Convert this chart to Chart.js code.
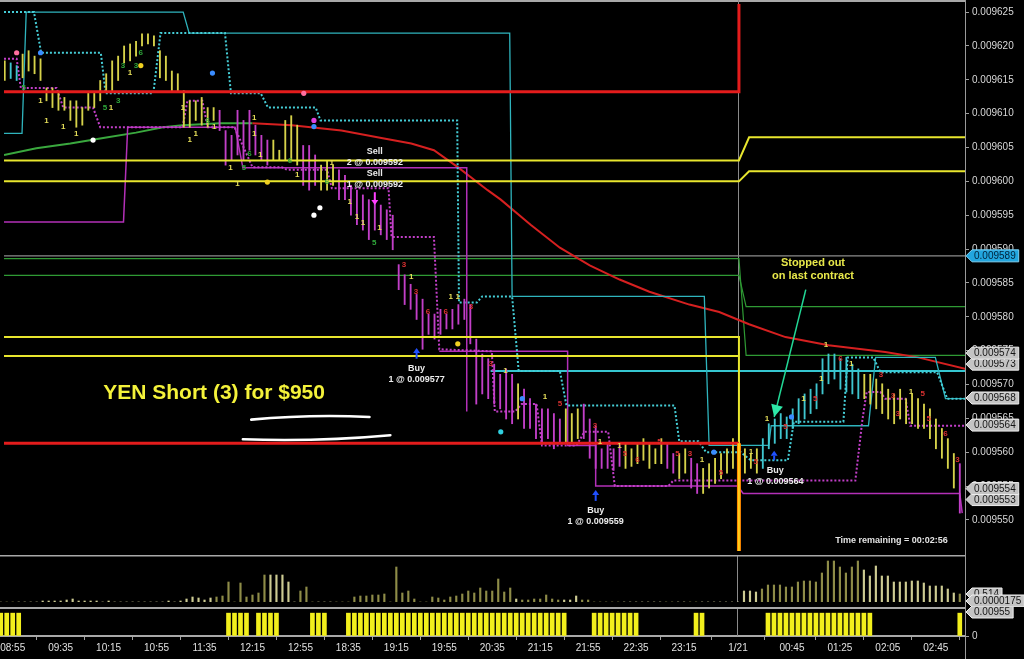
<!DOCTYPE html>
<html>
<head>
<meta charset="utf-8">
<title>YEN Short (3) for $950</title>
<script src="https://cdn.jsdelivr.net/npm/chart.js@4.4.1/dist/chart.umd.min.js"></script>
<style>
html,body{margin:0;padding:0;background:#000;overflow:hidden;}
#wrap{position:relative;width:1024px;height:659px;background:#000;}
#wrap canvas{position:absolute;left:0;}
</style>
</head>
<body>
<div id="wrap">
<canvas id="cMain" width="1024" height="555" style="top:0px;width:1024px;height:555px"></canvas>
<canvas id="cVol" width="1024" height="52" style="top:555px;width:1024px;height:52px"></canvas>
<canvas id="cBot" width="1024" height="52" style="top:607px;width:1024px;height:52px"></canvas>
</div>
<script>
// ---------------- DATA ----------------
const timeTickIdx = [2,10,18,26,34,42,50,58,66,74,82,90,98,106,114,123,132,140,148,156];
const timeTickLbl = ['08:55','09:35','10:15','10:55','11:35','12:15','12:55','18:35','19:15','19:55','20:35','21:15','21:55','22:35','23:15','1/21','00:45','01:25','02:05','02:45'];
const priceTicks = [0.009550,0.009555,0.009560,0.009565,0.009570,0.009575,0.009580,0.009585,0.009590,0.009595,0.009600,0.009605,0.009610,0.009615,0.009620,0.009625];

const barHigh = [
0.0096178,0.0096175,0.0096171,0.0096188,0.0096193,0.0096185,0.0096181,0.0096138,0.0096138,0.0096130,
0.0096124,0.0096119,0.0096119,0.0096109,0.0096130,0.0096130,0.0096149,0.0096159,0.0096178,0.0096185,
0.0096200,0.0096203,0.0096207,0.0096218,0.0096218,0.0096215,0.0096193,0.0096185,0.0096163,0.0096159,
0.0096134,0.0096119,0.0096119,0.0096124,0.0096109,0.0096109,0.0096105,0.0096075,0.0096068,0.0096105,
0.0096090,0.0096105,0.0096083,0.0096068,0.0096061,0.0096061,0.0096046,0.0096090,0.0096097,0.0096083,
0.0096053,0.0096053,0.0096039,0.0096024,0.0096031,0.0096024,0.0096017,0.0096009,0.0095994,0.0095987,
0.0095980,0.0095973,0.0095973,0.0095965,0.0095958,0.0095950,0.0095877,0.0095862,0.0095848,0.0095833,
0.0095826,0.0095804,0.0095804,0.0095811,0.0095804,0.0095811,0.0095818,0.0095826,0.0095818,0.0095767,
0.0095745,0.0095738,0.0095730,0.0095715,0.0095723,0.0095715,0.0095701,0.0095693,0.0095679,0.0095671,
0.0095664,0.0095664,0.0095657,0.0095649,0.0095664,0.0095657,0.0095664,0.0095671,0.0095649,0.0095639,
0.0095605,0.0095613,0.0095605,0.0095610,0.0095613,0.0095605,0.0095613,0.0095620,0.0095613,0.0095605,
0.0095620,0.0095613,0.0095598,0.0095598,0.0095605,0.0095591,0.0095583,0.0095576,0.0095583,0.0095591,
0.0095598,0.0095605,0.0095620,0.0095598,0.0095605,0.0095598,0.0095605,0.0095620,0.0095642,0.0095649,
0.0095657,0.0095652,0.0095664,0.0095679,0.0095686,0.0095693,0.0095701,0.0095738,0.0095745,0.0095745,
0.0095738,0.0095740,0.0095730,0.0095723,0.0095715,0.0095715,0.0095708,0.0095701,0.0095693,0.0095686,
0.0095693,0.0095679,0.0095686,0.0095679,0.0095671,0.0095664,0.0095649,0.0095635,0.0095620,0.0095598,
0.0095583];
const barLow = [
0.0096149,0.0096152,0.0096149,0.0096153,0.0096163,0.0096159,0.0096149,0.0096119,0.0096109,0.0096105,
0.0096105,0.0096090,0.0096080,0.0096083,0.0096105,0.0096109,0.0096119,0.0096134,0.0096134,0.0096149,
0.0096175,0.0096178,0.0096185,0.0096200,0.0096203,0.0096200,0.0096153,0.0096149,0.0096134,0.0096134,
0.0096080,0.0096080,0.0096090,0.0096083,0.0096080,0.0096090,0.0096075,0.0096024,0.0096031,0.0096039,
0.0096031,0.0096046,0.0096039,0.0096031,0.0096024,0.0096031,0.0096031,0.0096031,0.0096031,0.0096024,
0.0095994,0.0095987,0.0095994,0.0095987,0.0095987,0.0095994,0.0095973,0.0095973,0.0095950,0.0095936,
0.0095928,0.0095914,0.0095928,0.0095921,0.0095914,0.0095899,0.0095840,0.0095818,0.0095811,0.0095796,
0.0095752,0.0095774,0.0095767,0.0095774,0.0095782,0.0095782,0.0095789,0.0095796,0.0095760,0.0095671,
0.0095686,0.0095679,0.0095671,0.0095664,0.0095649,0.0095642,0.0095649,0.0095635,0.0095635,0.0095620,
0.0095613,0.0095620,0.0095605,0.0095613,0.0095613,0.0095613,0.0095620,0.0095620,0.0095591,0.0095576,
0.0095576,0.0095576,0.0095573,0.0095579,0.0095576,0.0095579,0.0095583,0.0095588,0.0095576,0.0095583,
0.0095583,0.0095576,0.0095569,0.0095561,0.0095569,0.0095547,0.0095539,0.0095539,0.0095547,0.0095554,
0.0095561,0.0095569,0.0095576,0.0095561,0.0095569,0.0095576,0.0095569,0.0095576,0.0095605,0.0095613,
0.0095620,0.0095620,0.0095635,0.0095642,0.0095649,0.0095657,0.0095664,0.0095686,0.0095701,0.0095708,
0.0095693,0.0095689,0.0095686,0.0095679,0.0095679,0.0095671,0.0095664,0.0095657,0.0095649,0.0095642,
0.0095649,0.0095642,0.0095642,0.0095635,0.0095635,0.0095620,0.0095605,0.0095591,0.0095576,0.0095547,
0.0095510];
// y = yellow, m = magenta, c = cyan bar colour per bar
const barKind = "ycc" + "yyyyyyyyyyyyyyyyyyyyyyyyyyyyyyyyy" + "mmmmmmmmm" + "yyyyy" + "mmm" + "yyy" +
  "mmmmmmmmmmmmmmmmmmmmmmmmmmmmmm" + "y" + "mmmmmmm" + "yyy" + "mmmmmmm" + "yyyyyyy" + "mm" + "yy" + "mm" +
  "yyyyyyyyyy" + "ccccccccccccccccc" + "yyyyyyyyyyyyyyyy" + "m";

const volume = [
0,0,0,0,0,0,0,1,1,1, 1,2,3,1,1,1,1,0,1,0, 0,0,0,0,0,0,0,0,1,0, 1,3,5,4,2,4,5,6,20,0,
19,5,7,9,27,27,27,27,20,0, 11,15,0,0,0,0,0,0,0,5, 6,6,7,7,8,0,35,9,11,3, 0,0,5,4,2,5,6,8,11,9,
14,11,11,23,10,14,3,2,2,3, 3,7,3,2,2,2,6,2,2,0, 0,0,0,0,0,0,0,0,0,0, 0,0,0,0,0,0,0,0,0,0,
0,0,0,0,11,11,10,13,17,17, 17,15,15,20,21,21,20,29,41,41, 35,29,35,41,32,26,36,26,26,20,
20,20,21,21,19,16,16,16,13,9, 8];

const signalIdx = [0,1,2,3,38,39,40,41,43,44,45,46,52,53,54,
58,59,60,61,62,63,64,65,66,67,68,69,70,71,72,73,74,75,76,77,78,79,80,81,82,83,84,85,86,87,88,89,90,91,92,93,94,
99,100,101,102,103,104,105,106,116,117,
128,129,130,131,132,133,134,135,136,137,138,139,140,141,142,143,144,145,160];

// trailing stop / channel lines (bar index, price)
const cyanDotX = [-0.12,4.9,6.1,16.1,16.9,24.9,26.1,36.9,37.9,42.9,44.1,52.1,52.9,75.8,76.1,79.1,80.0,85.0,86.1,93.0,94.1,112.2,113.0,116.2,117.5,123.3,125.0,131.2,132.2,140.5,141.2,145.5,146.7,156.2,157.9,160.9];
const cyanDotY = [0.0096250,0.0096250,0.0096190,0.0096190,0.0096130,0.0096130,0.0096219,0.0096219,0.0096130,0.0096130,0.0096109,0.0096109,0.0096090,0.0096090,0.0095821,0.0095821,0.0095830,0.0095830,0.0095720,0.0095720,0.0095669,0.0095669,0.0095616,0.0095616,0.0095600,0.0095600,0.0095588,0.0095588,0.0095645,0.0095645,0.0095740,0.0095740,0.0095718,0.0095718,0.0095679,0.0095679];
const cyanSolX = [-0.12,2.9,3.6,29.9,30.9,84.6,85.0,117.2,118.0,128.0,128.4,144.7,145.9,155.9,157.6,160.9];
const cyanSolY = [0.0096071,0.0096071,0.0096250,0.0096250,0.0096219,0.0096219,0.0095830,0.0095830,0.0095610,0.0095610,0.0095639,0.0095639,0.0095740,0.0095740,0.0095679,0.0095679];
const magDotX = [-0.12,2.0,2.7,8.7,9.8,14.8,16.0,29.8,30.6,33.1,34.0,38.5,41.5,46.4,47.3,54.0,54.8,64.3,64.8,71.9,72.8,81.6,82.1,85.5,86.6,89.1,90.0,95.8,97.1,101.1,102.2,111.2,112.0,142.5,143.7,144.4,146.7,147.5,150.9,151.7,160.9];
const magDotY = [0.0096181,0.0096181,0.0096138,0.0096138,0.0096109,0.0096109,0.0096080,0.0096080,0.0096119,0.0096119,0.0096080,0.0096080,0.0096021,0.0096021,0.0096017,0.0096017,0.0095990,0.0095990,0.0095918,0.0095918,0.0095752,0.0095749,0.0095660,0.0095660,0.0095671,0.0095671,0.0095610,0.0095610,0.0095630,0.0095630,0.0095550,0.0095550,0.0095558,0.0095558,0.0095649,0.0095689,0.0095689,0.0095679,0.0095679,0.0095639,0.0095639];
const magSolAX = [-0.12,19.9,20.6,38.6,39.9,77.4,77.4];
const magSolAY = [0.0095940,0.0095940,0.0096080,0.0096080,0.0096020,0.0096020,0.0095660];
const magSolBX = [72.8,94.3,94.3,99.0,99.0,122.8,123.7,160.0,160.4];
const magSolBY = [0.0095749,0.0095749,0.0095610,0.0095610,0.0095550,0.0095550,0.0095539,0.0095539,0.0095510];
const maX = [-0.12,5.3,11.0,16.5,22.0,26.5,29.8,36.0,41.5,48.1,56.4,63.1,68.1,71.9,75.9,80.9,83.1,88.1,93.0,98.0,103.0,108.0,114.7,119.7,124.7,130.8,138.0,147.5,153.0,160.9];
const maY = [0.0096039,0.0096049,0.0096056,0.0096064,0.0096072,0.0096080,0.0096083,0.0096086,0.0096086,0.0096083,0.0096075,0.0096064,0.0096056,0.0096046,0.0096021,0.0095987,0.0095973,0.0095936,0.0095902,0.0095876,0.0095855,0.0095837,0.0095818,0.0095807,0.0095789,0.0095770,0.0095758,0.0095748,0.0095740,0.0095723];

// horizontal levels
const redTopX = [-0.12,123,123], redTopY = [0.00961325,0.00961325,0.0096275];
const redLowX = [-0.12,123], redLowY = [0.0095613,0.0095613];
const orangeX = [123,123], orangeY = [0.0095613,0.0095452];
const yel1X = [-0.12,123,124.7,160.9], yel1Y = [0.0096031,0.0096031,0.0096065,0.0096065];
const yel2X = [-0.12,123,124.7,160.9], yel2Y = [0.0096000,0.0096000,0.0096015,0.0096015];
const yel3X = [-0.12,123,123], yel3Y = [0.0095770,0.0095770,0.0095452];
const yel4X = [-0.12,123], yel4Y = [0.0095742,0.0095742];
const grn1X = [-0.12,123,124.2,160.9], grn1Y = [0.0095886,0.0095886,0.0095743,0.0095743];
const grn2X = [-0.12,123,124.2,160.9], grn2Y = [0.0095861,0.0095861,0.0095815,0.0095815];
const lastX = [-0.12,160.9], lastY = [0.0095890,0.0095890];
const cyanLvlX = [81.4,160.9], cyanLvlY = [0.0095720,0.0095720];

// markers
const dotX = [2.0,6.0,22.8,34.8,50.1,14.8,51.8,51.8,52.8,51.8,44.0,75.9,86.7,83.1,118.8,131.8];
const dotY = [0.0096190,0.0096190,0.0096171,0.0096160,0.0096130,0.0096061,0.0096090,0.0096081,0.0095961,0.0095950,0.0095999,0.0095760,0.0095679,0.0095630,0.0095600,0.0095652];
const dotC = ['#ff6f9f','#3a8cff','#f0d020','#3a8cff','#ff6f9f','#ffffff','#e040e0','#3a8cff','#ffffff','#ffffff','#f0d020','#f0d020','#3a8cff','#30d0e0','#3a8cff','#3a8cff'];

const numLbl = ['1','1','1','1','1','1','1','1','1','1','1','1','1','1','1','1','1','1','1','1','1','1','1','1','1','1','1','1','1','1','1','1','1','1','1','1',
 '5','3','3','6','5','3','6','6','5','6','6','5',
 '3','3','6','6','3','3','5','3','5','6','5','5','3','5','5','5','5','6','3','3','3','5','5','6','3'];
const numX = [6.0,7.0,9.8,12.0,17.8,21.0,29.8,31.0,32.0,35.1,41.8,41.8,42.8,37.8,39.0,49.0,54.8,57.8,59.0,60.0,62.8,68.1,74.7,75.9,83.9,90.5,99.7,103.0,116.8,125.0,127.7,133.8,136.8,137.6,141.8,151.8,
 3.2,19.8,22.0,22.8,16.8,19.0,34.0,41.0,40.1,47.8,54.0,61.9,
 66.9,68.9,70.9,73.9,78.1,81.4,93.0,98.9,103.9,106.0,109.7,112.7,114.8,120.0,125.8,130.8,135.8,140.0,146.8,148.8,149.6,153.8,154.8,157.6,159.6];
const numY = [0.0096119,0.0096090,0.0096080,0.0096071,0.0096108,0.0096160,0.0096109,0.0096061,0.0096071,0.0096080,0.0096094,0.0096071,0.0096039,0.0096020,0.0095997,0.0096009,0.0096027,0.0095970,0.0095948,0.0095939,0.0095931,0.0095859,0.0095829,0.0095829,0.0095720,0.0095682,0.0095616,0.0095610,0.0095588,0.0095600,0.0095649,0.0095679,0.0095708,0.0095758,0.0095730,0.0095689,
 0.0096138,0.0096171,0.0096171,0.0096190,0.0096109,0.0096119,0.0096090,0.0096041,0.0096020,0.0096031,0.0095999,0.0095909,
 0.0095877,0.0095837,0.0095808,0.0095808,0.0095815,0.0095730,0.0095671,0.0095639,0.0095598,0.0095588,0.0095616,0.0095598,0.0095598,0.0095569,0.0095586,0.0095638,0.0095679,0.0095738,0.0095715,0.0095683,0.0095657,0.0095686,0.0095649,0.0095627,0.0095588];
const numKind = "yyyyyyyyyyyyyyyyyyyyyyyyyyyyyyyyyyyy" + "gggggggggggg" + "rrrrrrrrrrrrrrrrrrrrrrrrr";

const tradeText = ['Sell','2 @ 0.009592','Sell','1 @ 0.009592','Buy','1 @ 0.009577','Buy','1 @ 0.009559','Buy','1 @ 0.009564'];
const tradeX = [62.0,62.0,62.0,62.0,69.0,69.0,99.0,99.0,129.1,129.1];
const tradeY = [0.0096044,0.0096028,0.0096012,0.0095996,0.0095724,0.0095708,0.0095514,0.0095498,0.0095573,0.0095557];
// execution arrows: index, tail price, tip price, colour
const arrowX = [62.0,69.0,99.0,128.9];
const arrowTail = [0.0095984,0.0095738,0.0095528,0.0095588];
const arrowTip = [0.0095965,0.0095754,0.0095544,0.0095602];
const arrowC = ['#ff40ff','#2050ff','#2050ff','#2050ff'];

const axisBoxVals = [0.009589,0.009574,0.009573,0.009568,0.009564,0.009554,0.009553];
const axisBoxBlue = [true,false,false,false,false,false,false];

// ---------------- CHARTS ----------------
const X_MIN = -0.12, X_MAX = 160.87;
const Y_MIN = 0.0095454, Y_MAX = 0.0096262;
const AXIS_W = 59;
const DAY_IDX = 123;
const FONT = "'Liberation Sans', Arial, sans-serif";
Chart.defaults.font.family = FONT;
Chart.defaults.font.size = 10;
Chart.defaults.color = '#d8d8d8';

const kindCol = {y:'#d6d24a', m:'#c23fc8', c:'#3fc6cf'};
const pts = (xs, ys) => xs.map((x, i) => ({x: x, y: ys[i]}));
function lineDs(xs, ys, color, width, order, dash){
  return {type:'line', data: pts(xs, ys), borderColor: color, borderWidth: width, borderDash: dash || [],
    pointRadius: 0, fill: false, tension: 0, order: order, borderCapStyle:'butt'};
}
// fixed axis width, and no extra label padding so the plot area fills the panel exactly
const fitW = s => { s.width = AXIS_W; s.paddingTop = 0; s.paddingBottom = 0; };
const fitH = s => { s.height = 23; s.paddingLeft = 0; s.paddingRight = 0; };

function valueBox(ctx, xTip, yc, text, fill, stroke, txtCol){
  ctx.font = '10px ' + FONT;
  const w = ctx.measureText(text).width + 5;
  const h = 12;
  ctx.beginPath();
  ctx.moveTo(xTip, yc);
  ctx.lineTo(xTip + 6, yc - h/2);
  ctx.lineTo(xTip + 6 + w, yc - h/2);
  ctx.lineTo(xTip + 6 + w, yc + h/2);
  ctx.lineTo(xTip + 6, yc + h/2);
  ctx.closePath();
  ctx.fillStyle = fill; ctx.fill();
  ctx.lineWidth = 1; ctx.strokeStyle = stroke; ctx.stroke();
  ctx.fillStyle = txtCol; ctx.textAlign = 'left'; ctx.textBaseline = 'middle';
  ctx.fillText(text, xTip + 8, yc + 0.5);
}
function frameLines(chart, topLine){
  const {ctx, chartArea: ca} = chart;
  ctx.save();
  ctx.strokeStyle = '#9a9a9a'; ctx.lineWidth = 1;
  ctx.beginPath(); ctx.moveTo(ca.right + 0.5, 0); ctx.lineTo(ca.right + 0.5, chart.height); ctx.stroke();
  if (topLine){ ctx.strokeStyle = '#a8a8a8'; ctx.lineWidth = 2; ctx.beginPath(); ctx.moveTo(0, 1); ctx.lineTo(ca.right, 1); ctx.stroke(); }
  const dx = chart.scales.x.getPixelForValue(DAY_IDX);
  ctx.strokeStyle = '#8a8a8a'; ctx.lineWidth = 1;
  ctx.beginPath(); ctx.moveTo(Math.round(dx) - 0.5, 0); ctx.lineTo(Math.round(dx) - 0.5, ca.bottom); ctx.stroke();
  ctx.restore();
}

const mainOverlay = {
  id: 'mainOverlay',
  beforeDatasetsDraw(chart){ frameLines(chart, true); },
  afterDatasetsDraw(chart){
    const {ctx, scales:{x, y}} = chart;
    const X = v => x.getPixelForValue(v), Y = v => y.getPixelForValue(v);
    ctx.save();
    // small numeric bar markers
    ctx.font = 'bold 8px ' + FONT; ctx.textAlign = 'center'; ctx.textBaseline = 'middle';
    const nc = {y:'#e6df5a', g:'#2fa83a', r:'#d83030'};
    numLbl.forEach((t, k) => { ctx.fillStyle = nc[numKind[k]]; ctx.fillText(t, X(numX[k]), Y(numY[k])); });
    // execution arrows
    arrowX.forEach((ax, k) => {
      const px = X(ax), yt = Y(arrowTail[k]), yp = Y(arrowTip[k]);
      const dir = Math.sign(yp - yt);
      ctx.strokeStyle = arrowC[k]; ctx.fillStyle = arrowC[k]; ctx.lineWidth = 2;
      ctx.beginPath(); ctx.moveTo(px, yt); ctx.lineTo(px, yp - dir * 5); ctx.stroke();
      ctx.beginPath(); ctx.moveTo(px - 3.5, yp - dir * 5); ctx.lineTo(px + 3.5, yp - dir * 5); ctx.lineTo(px, yp); ctx.closePath(); ctx.fill();
    });
    // trade labels
    ctx.font = 'bold 9px ' + FONT; ctx.fillStyle = '#ececec';
    tradeText.forEach((t, k) => ctx.fillText(t, X(tradeX[k]), Y(tradeY[k])));
    // title
    ctx.font = 'bold 21px ' + FONT; ctx.fillStyle = '#f4f23a'; ctx.textAlign = 'left';
    ctx.fillText('YEN Short (3) for $950', X(16.5), Y(0.0095687));
    // hand drawn underlines
    ctx.strokeStyle = '#ffffff'; ctx.lineWidth = 2.6; ctx.lineCap = 'round';
    ctx.beginPath(); ctx.moveTo(X(41.3), Y(0.0095648)); ctx.quadraticCurveTo(X(51), Y(0.0095656), X(61.1), Y(0.0095652)); ctx.stroke();
    ctx.beginPath(); ctx.moveTo(X(39.9), Y(0.0095619)); ctx.quadraticCurveTo(X(52), Y(0.0095615), X(64.6), Y(0.0095625)); ctx.stroke();
    // stopped-out note and arrow
    ctx.font = 'bold 11px ' + FONT; ctx.fillStyle = '#e8e84a'; ctx.textAlign = 'center';
    ctx.fillText('Stopped out', X(135.4), Y(0.0095880));
    ctx.fillText('on last contract', X(135.4), Y(0.0095861));
    const x1 = X(134.2), y1 = Y(0.0095840), x2 = X(128.9), y2 = Y(0.0095652);
    ctx.strokeStyle = '#22d896'; ctx.lineWidth = 1.5; ctx.lineCap = 'butt';
    ctx.beginPath(); ctx.moveTo(x1, y1); ctx.lineTo(x2, y2); ctx.stroke();
    const ang = Math.atan2(y2 - y1, x2 - x1), L = 12, W = 6;
    ctx.beginPath(); ctx.moveTo(x2, y2);
    ctx.lineTo(x2 - L*Math.cos(ang) + W*Math.sin(ang), y2 - L*Math.sin(ang) - W*Math.cos(ang));
    ctx.lineTo(x2 - L*Math.cos(ang) - W*Math.sin(ang), y2 - L*Math.sin(ang) + W*Math.cos(ang));
    ctx.closePath(); ctx.fillStyle = '#2ee8a8'; ctx.fill();
    // time remaining
    ctx.font = 'bold 9px ' + FONT; ctx.fillStyle = '#e4e4e4'; ctx.textAlign = 'right';
    ctx.fillText('Time remaining = 00:02:56', X(158.0), Y(0.0095469));
    ctx.restore();
  },
  afterDraw(chart){
    const {ctx, scales:{y}, chartArea: ca} = chart;
    ctx.save();
    const items = axisBoxVals.map((v, k) => ({v: v, blue: axisBoxBlue[k], py: y.getPixelForValue(v)}));
    items.sort((a, b) => b.py - a.py);
    for (let k = 1; k < items.length; k++){
      if (items[k-1].py - items[k].py < 11) items[k].py = items[k-1].py - 11;
    }
    items.forEach(it => {
      if (it.blue) valueBox(ctx, ca.right + 1, it.py, it.v.toFixed(6), '#22a6df', '#7fd2f5', '#02223a');
      else valueBox(ctx, ca.right + 1, it.py, it.v.toFixed(6), '#c4c4c4', '#eeeeee', '#151515');
    });
    ctx.restore();
  }
};

new Chart(document.getElementById('cMain'), {
  type: 'bar',
  data: { datasets: [
    lineDs(lastX, lastY, '#8c8c8c', 1.2, 30),
    lineDs(grn1X, grn1Y, '#2f9a34', 1.2, 29),
    lineDs(grn2X, grn2Y, '#2f9a34', 1.2, 29),
    lineDs(cyanLvlX, cyanLvlY, '#35c6d0', 2, 28),
    {...lineDs(maX, maY, '#d62020', 2, 27), segment: { borderColor: c => c.p0.parsed.x < 37 ? '#3aa83e' : '#d62020' }},
    lineDs(cyanSolX, cyanSolY, '#2fb4bd', 1.3, 26),
    lineDs(magSolAX, magSolAY, '#b330b8', 1.5, 25),
    lineDs(magSolBX, magSolBY, '#b330b8', 1.5, 25),
    lineDs(cyanDotX, cyanDotY, '#45cdd6', 2, 24, [2, 2]),
    lineDs(magDotX, magDotY, '#c23fc8', 2, 23, [2, 2]),
    { type: 'bar', data: barHigh.map((h, i) => ({x: i, y: [barLow[i], h]})),
      backgroundColor: barKind.split('').map(k => kindCol[k]), barThickness: 1.2, grouped: false, order: 10 },
    lineDs(yel1X, yel1Y, '#e8e62e', 2, 6),
    lineDs(yel2X, yel2Y, '#e8e62e', 2, 6),
    lineDs(yel3X, yel3Y, '#e8e62e', 2, 6),
    lineDs(yel4X, yel4Y, '#e8e62e', 2, 6),
    lineDs(redTopX, redTopY, '#e41c1c', 3, 5),
    lineDs(redLowX, redLowY, '#e41c1c', 3, 5),
    lineDs(orangeX, orangeY, '#ff8a00', 4, 4),
    lineDs(orangeX, orangeY, '#ffe020', 1.5, 3),
    { type: 'scatter', data: pts(dotX, dotY), backgroundColor: dotC, borderWidth: 0, pointRadius: 2.6, order: 2 }
  ]},
  options: {
    responsive: false, animation: false, events: [],
    layout: { padding: { top: 3, bottom: 2, left: 0, right: 0 } },
    plugins: { legend: { display: false }, tooltip: { enabled: false } },
    scales: {
      x: { type: 'linear', min: X_MIN, max: X_MAX, display: false, offset: false },
      y: { type: 'linear', position: 'right', min: Y_MIN, max: Y_MAX, afterFit: fitW,
           afterBuildTicks: s => { s.ticks = priceTicks.map(v => ({value: v})); },
           ticks: { color: '#d8d8d8', font: { size: 10 }, padding: 3, callback: v => Number(v).toFixed(6) },
           grid: { display: true, drawOnChartArea: false, drawTicks: true, tickLength: 4, color: '#a0a0a0' },
           border: { display: true, color: '#a0a0a0' } }
    }
  },
  plugins: [mainOverlay]
});

// ---- volume panel ----
const volOverlay = {
  id: 'volOverlay',
  beforeDatasetsDraw(chart){
    frameLines(chart, false);
    const {ctx, chartArea: ca} = chart;
    ctx.save(); ctx.strokeStyle = '#a8a8a8'; ctx.lineWidth = 2;
    ctx.beginPath(); ctx.moveTo(0, 0.5); ctx.lineTo(ca.right, 0.5); ctx.stroke(); ctx.restore();
  },
  afterDraw(chart){
    const {ctx, chartArea: ca} = chart;
    ctx.save();
    valueBox(ctx, ca.right + 1, ca.bottom - 8, '0.514', '#c4c4c4', '#eeeeee', '#151515');
    valueBox(ctx, ca.right + 1, ca.bottom - 1, '0.0000175', '#c4c4c4', '#eeeeee', '#151515');
    ctx.restore();
  }
};
new Chart(document.getElementById('cVol'), {
  type: 'bar',
  data: { datasets: [{ data: volume.map((v, i) => ({x: i, y: v})),
    backgroundColor: barKind.split('').map(k => k === 'y' ? '#cdcb92' : '#8e8c48'), barThickness: 1.5, grouped: false }] },
  options: {
    responsive: false, animation: false, events: [],
    layout: { padding: { top: 1, bottom: 5, left: 0, right: 0 } },
    plugins: { legend: { display: false }, tooltip: { enabled: false } },
    scales: {
      x: { type: 'linear', min: X_MIN, max: X_MAX, display: false, offset: false },
      y: { type: 'linear', position: 'right', min: 0, max: 46, afterFit: fitW,
           ticks: { display: false }, grid: { display: false }, border: { display: false } }
    }
  },
  plugins: [volOverlay]
});

// ---- signal panel + time axis ----
const botOverlay = {
  id: 'botOverlay',
  beforeDatasetsDraw(chart){
    frameLines(chart, false);
    const {ctx, chartArea: ca} = chart;
    ctx.save(); ctx.strokeStyle = '#a8a8a8'; ctx.lineWidth = 2;
    ctx.beginPath(); ctx.moveTo(0, 1); ctx.lineTo(ca.right, 1); ctx.stroke(); ctx.restore();
  },
  afterDraw(chart){
    const {ctx, chartArea: ca} = chart;
    ctx.save();
    valueBox(ctx, ca.right + 1, ca.top, '0.00955', '#c4c4c4', '#eeeeee', '#151515');
    ctx.restore();
  }
};
new Chart(document.getElementById('cBot'), {
  type: 'bar',
  data: { datasets: [{ data: signalIdx.map(i => ({x: i, y: 1})), backgroundColor: '#f2ef1c',
    borderColor: '#9c9a10', borderWidth: 0, barThickness: 4, grouped: false }] },
  options: {
    responsive: false, animation: false, events: [],
    layout: { padding: { top: 5, bottom: 0, left: 0, right: 0 } },
    plugins: { legend: { display: false }, tooltip: { enabled: false } },
    scales: {
      x: { type: 'linear', position: 'bottom', min: X_MIN, max: X_MAX, offset: false, afterFit: fitH,
           afterBuildTicks: s => { s.ticks = timeTickIdx.map(v => ({value: v})); },
           ticks: { autoSkip: false, maxRotation: 0, color: '#e0e0e0', font: { size: 10 }, padding: 2,
                    callback: v => timeTickLbl[timeTickIdx.indexOf(v)] },
           grid: { display: true, drawOnChartArea: false, tickLength: 4, color: '#a0a0a0' },
           border: { display: true, color: '#a8a8a8', width: 2 } },
      y: { type: 'linear', position: 'right', min: 0, max: 1.05, afterFit: fitW,
           afterBuildTicks: s => { s.ticks = [{value: 0}]; },
           ticks: { color: '#d8d8d8', font: { size: 10 }, padding: 3, callback: () => '0' },
           grid: { display: true, drawOnChartArea: false, tickLength: 4, color: '#a0a0a0' },
           border: { display: false } }
    }
  },
  plugins: [botOverlay]
});
</script>
</body>
</html>
